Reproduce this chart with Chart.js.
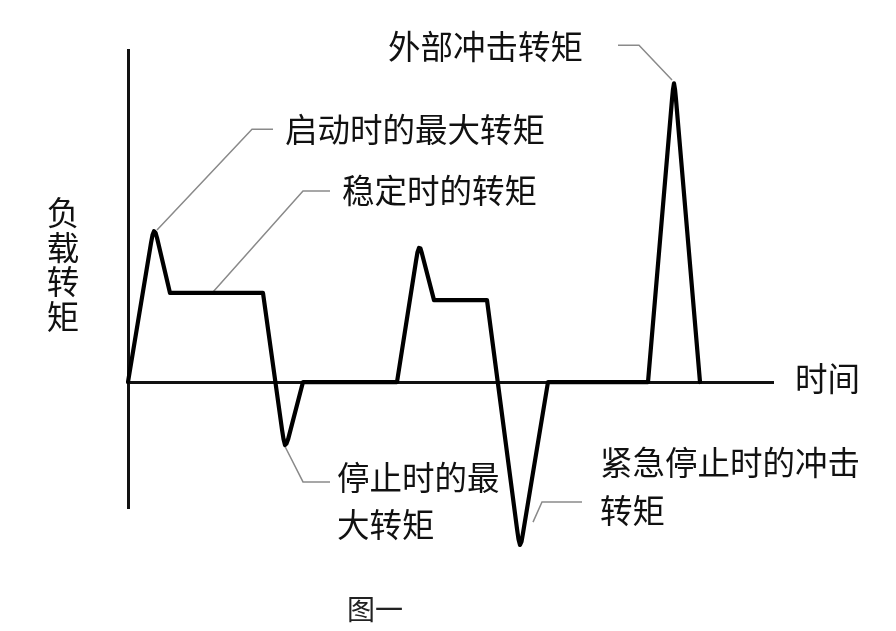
<!DOCTYPE html>
<html>
<head>
<meta charset="utf-8">
<script src="https://cdn.jsdelivr.net/npm/chart.js@4.4.1/dist/chart.umd.min.js"></script>
<style>
  html, body { margin: 0; padding: 0; background: #fff; }
  #wrap { width: 896px; height: 631px; position: relative; }
</style>
</head>
<body>
<div id="wrap"><canvas id="torqueChart"></canvas></div>
<script>
// time axis units and load torque (% of the external shock peak)
const times  = [0, 2.3, 2.45, 2.6, 2.75, 2.9, 4.2, 13.5, 15.4, 15.55, 15.7, 15.85, 16.0, 17.5,
                26.9, 28.8, 28.95, 29.1, 29.25, 29.4, 30.6, 35.9, 38.9, 39.05, 39.2, 39.35, 39.5, 42.0,
                52.0, 54.4, 54.5, 54.6, 54.7, 54.8, 57.2];
const torque = [0, 46.3, 49.0, 50.3, 49.8, 48.1, 29.7, 29.7, -15.8, -19.0, -21.0, -20.5, -19.2, 0,
                0, 40.3, 43.3, 44.7, 44.5, 42.8, 27.3, 27.3, -48.9, -52.4, -54.3, -53.2, -50.4, 0,
                0, 94.2, 97.6, 99.6, 97.6, 94.2, 0];

// axis ranges
const timeMax = 64.5;
const torqueMin = -42;
const torqueMax = 110.7;

// leader lines from the callouts to the curve
const leadStart     = [[2.9, 50.7], [12.4, 84.3], [14.5, 84.3]];
const leadSteady    = [[8.5, 30.0], [17.5, 63.7], [20.2, 63.7]];
const leadShock     = [[54.4, 100.7], [51.1, 112.3], [49.0, 112.3]];
const leadStop      = [[15.7, -21.5], [17.5, -33.3], [20.2, -33.3]];
const leadEmergency = [[40.5, -46.7], [41.4, -40], [45.4, -40]];

const toPoints = (xs, ys) => xs.map((x, i) => ({ x: x, y: ys[i] }));
const pairs = arr => arr.map(p => ({ x: p[0], y: p[1] }));

const CJK = '"Noto Sans CJK SC", "Noto Sans", sans-serif';

// callout text
const labelPlugin = {
    id: 'labels',
    afterDraw(chart) {
        const ctx = chart.ctx;
        ctx.save();
        ctx.fillStyle = '#111';
        ctx.textBaseline = 'middle';
        ctx.textAlign = 'left';
        ctx.font = '32.5px ' + CJK;
        const texts = [
            ['外部冲击转矩', 388, 47],
            ['启动时的最大转矩', 285, 130],
            ['稳定时的转矩', 342, 191],
            ['时间', 795, 379],
            ['停止时的最', 337, 478],
            ['大转矩', 337, 525],
            ['紧急停止时的冲击', 600, 463],
            ['转矩', 600, 511]
        ];
        texts.forEach(t => ctx.fillText(t[0], t[1], t[2]));

        // vertical axis title, one character per line
        ctx.textAlign = 'center';
        ['负', '载', '转', '矩'].forEach((c, i) => ctx.fillText(c, 63, 213 + i * 34.5));

        // figure caption
        ctx.font = '28px ' + CJK;
        ctx.fillStyle = '#222';
        ctx.fillText('图一', 375, 609);
        ctx.restore();
    }
};

function leader(points) {
    return {
        data: pairs(points),
        borderColor: '#8a8a8a',
        borderWidth: 1.5,
        pointRadius: 0,
        clip: false,
        fill: false
    };
}

const ctx = document.getElementById('torqueChart').getContext('2d');
new Chart(ctx, {
    type: 'line',
    data: {
        datasets: [
            {
                label: '负载转矩',
                data: toPoints(times, torque),
                borderColor: '#000',
                borderWidth: 4.2,
                borderJoinStyle: 'round',
                borderCapStyle: 'round',
                pointRadius: 0,
                tension: 0,
                clip: false,
                fill: false
            },
            leader(leadStart),
            leader(leadSteady),
            leader(leadShock),
            leader(leadStop),
            leader(leadEmergency)
        ]
    },
    options: {
        responsive: true,
        maintainAspectRatio: false,
        animation: false,
        layout: { padding: { left: 128, top: 50, right: 123, bottom: 123 } },
        plugins: {
            legend: { display: false },
            tooltip: { enabled: false }
        },
        scales: {
            x: {
                type: 'linear',
                position: { y: 0 },
                min: 0,
                max: timeMax,
                grid: { display: false, drawTicks: false },
                ticks: { display: false },
                border: { display: true, color: '#111', width: 3 }
            },
            y: {
                type: 'linear',
                position: { x: 0 },
                min: torqueMin,
                max: torqueMax,
                grid: { display: false, drawTicks: false },
                ticks: { display: false },
                border: { display: true, color: '#111', width: 3 }
            }
        }
    },
    plugins: [labelPlugin]
});
</script>
</body>
</html>
